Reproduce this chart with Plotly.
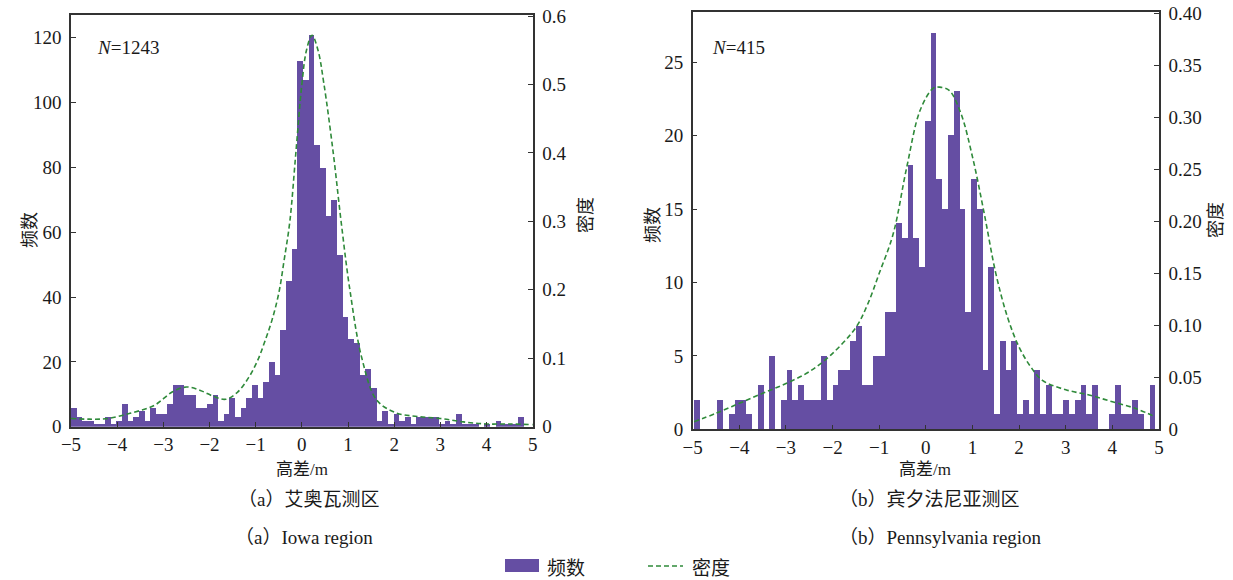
import plotly.graph_objects as go

W, H = 1233, 580

# ---- data -------------------------------------------------------------
# (a) Iowa: 80 histogram bins starting at -5 m
iowa_bin_start = -5.0
iowa_bin_width = 0.1226
iowa_counts = [
    6, 3, 2, 2, 1, 1, 3, 1, 2, 7,
    2, 3, 5, 2, 6, 4, 4, 7, 13, 13,
    10, 10, 6, 6, 7, 10, 2, 4, 9, 3,
    6, 9, 13, 9, 14, 20, 16, 30, 45, 55,
    113, 107, 121, 87, 80, 65, 70, 53, 34, 27,
    26, 16, 18, 12, 2, 5, 1, 4, 2, 3,
    1, 3, 3, 3, 3, 1, 2, 1, 4, 1,
    1, 1, 0, 1, 0, 2, 1, 1, 1, 3,
]
iowa_density_x = [-5.0, -4.6, -4.2, -3.7, -3.2, -2.8, -2.5, -2.2, -1.9, -1.65,
                  -1.4, -1.15, -0.95, -0.8, -0.65, -0.5, -0.38, -0.26, -0.13, 0.0,
                  0.1, 0.22, 0.35, 0.48, 0.68, 0.85, 1.04, 1.3, 1.62, 2.05,
                  2.5, 3.0, 3.5, 4.0, 4.5, 5.0]
iowa_density_y = [0.012, 0.011, 0.012, 0.020, 0.031, 0.051, 0.058, 0.053, 0.044, 0.040,
                  0.050, 0.072, 0.098, 0.125, 0.155, 0.195, 0.245, 0.300, 0.400, 0.500,
                  0.550, 0.572, 0.550, 0.500, 0.400, 0.300, 0.200, 0.100, 0.039, 0.020,
                  0.015, 0.012, 0.007, 0.004, 0.004, 0.003]

# (b) Pennsylvania: 80 histogram bins
penn_bin_start = -4.97
penn_bin_width = 0.1236
penn_counts = [
    2, 0, 0, 0, 2, 0, 1, 2, 2, 1,
    0, 3, 0, 5, 0, 2, 4, 2, 3, 2,
    2, 2, 5, 2, 3, 4, 4, 6, 7, 3,
    3, 5, 5, 8, 8, 14, 13, 18, 13, 11,
    21, 27, 17, 15, 20, 23, 15, 8, 17, 15,
    4, 11, 1, 6, 4, 6, 1, 2, 1, 4,
    1, 3, 1, 1, 2, 1, 2, 3, 1, 3,
    0, 0, 1, 3, 1, 1, 2, 1, 0, 3,
]
penn_density_x = [-4.97, -4.5, -4.0, -3.5, -3.0, -2.5, -2.0, -1.5, -1.25, -1.0,
                  -0.7, -0.41, -0.12, 0.16, 0.3, 0.5, 0.75, 1.0, 1.25, 1.5,
                  1.75, 2.0, 2.25, 2.5, 3.0, 3.5, 4.0, 4.5, 4.92]
penn_density_y = [0.0073, 0.0154, 0.025, 0.0346, 0.044, 0.0554, 0.073, 0.098, 0.120, 0.150,
                  0.188, 0.252, 0.307, 0.328, 0.329, 0.326, 0.304, 0.262, 0.208, 0.150,
                  0.108, 0.079, 0.060, 0.047, 0.038, 0.033, 0.0265, 0.020, 0.012]

x_ticks = [-5, -4, -3, -2, -1, 0, 1, 2, 3, 4, 5]
iowa_count_ticks = [0, 20, 40, 60, 80, 100, 120]
iowa_density_ticks = [0, 0.1, 0.2, 0.3, 0.4, 0.5, 0.6]
iowa_density_labels = ["0", "0.1", "0.2", "0.3", "0.4", "0.5", "0.6"]
penn_count_ticks = [0, 5, 10, 15, 20, 25]
penn_density_ticks = [0, 0.05, 0.10, 0.15, 0.20, 0.25, 0.30, 0.35, 0.40]
penn_density_labels = ["0", "0.05", "0.10", "0.15", "0.20", "0.25", "0.30", "0.35", "0.40"]

# ---- styling ----------------------------------------------------------
BAR = "#654ea3"
LINE = "#2f8a3a"
AXIS = "#333333"
TXT = "#1a1a1a"
SERIF = "Liberation Serif, Noto Sans CJK SC"
CJK = "Noto Sans CJK SC"


def px(x):
    return x / W


def py(y):
    return 1 - y / H


def centers(start, width, n):
    return [start + width * (i + 0.5) for i in range(n)]


fig = go.Figure()

fig.add_trace(go.Bar(
    x=centers(iowa_bin_start, iowa_bin_width, len(iowa_counts)), y=iowa_counts,
    width=iowa_bin_width, marker=dict(color=BAR, line=dict(width=0)),
    xaxis="x", yaxis="y", name="频数", showlegend=False))
fig.add_trace(go.Scatter(
    x=iowa_density_x, y=iowa_density_y, mode="lines",
    line=dict(color=LINE, width=1.6, dash="5px,3px", shape="spline", smoothing=1.0),
    xaxis="x", yaxis="y2", name="密度", showlegend=False))

fig.add_trace(go.Bar(
    x=centers(penn_bin_start, penn_bin_width, len(penn_counts)), y=penn_counts,
    width=penn_bin_width, marker=dict(color=BAR, line=dict(width=0)),
    xaxis="x2", yaxis="y3", name="频数", showlegend=False))
fig.add_trace(go.Scatter(
    x=penn_density_x, y=penn_density_y, mode="lines",
    line=dict(color=LINE, width=1.6, dash="5px,3px", shape="spline", smoothing=1.0),
    xaxis="x2", yaxis="y4", name="密度", showlegend=False))

tick_font = dict(family=SERIF, size=19, color=TXT)
common = dict(showgrid=False, zeroline=False, showline=True, linecolor=AXIS, linewidth=1.5,
              ticks="inside", ticklen=5, tickwidth=1.3, tickcolor=AXIS, tickfont=tick_font,
              automargin=False)

fig.update_layout(
    width=W, height=H, autosize=False,
    margin=dict(l=0, r=0, t=0, b=0, pad=0),
    paper_bgcolor="white", plot_bgcolor="white",
    bargap=0, barmode="overlay",
    xaxis=dict(domain=[px(71), px(532.7)], range=[-5, 5], anchor="y",
               tickvals=x_ticks, mirror=True, ticklabelstandoff=0, **common),
    yaxis=dict(domain=[py(426.7), py(14.7)], range=[0, 127.1], anchor="x",
               tickvals=iowa_count_ticks, ticklabelstandoff=4, **common),
    yaxis2=dict(overlaying="y", side="right", anchor="x", range=[0, 0.602],
                tickvals=iowa_density_ticks, ticktext=iowa_density_labels,
                ticklabelstandoff=4, **common),
    xaxis2=dict(domain=[px(692.7), px(1159)], range=[-5, 5], anchor="y3",
                tickvals=x_ticks, mirror=True, ticklabelstandoff=0, **common),
    yaxis3=dict(domain=[py(429.3), py(12.3)], range=[0, 28.4], anchor="x2",
                tickvals=penn_count_ticks, ticklabelstandoff=4, **common),
    yaxis4=dict(overlaying="y3", side="right", anchor="x2", range=[0, 0.401],
                tickvals=penn_density_ticks, ticktext=penn_density_labels,
                ticklabelstandoff=4, **common),
)

ann = []


def label(text, x, y, size=19, family=SERIF, angle=0, xanchor="center"):
    ann.append(dict(text=text, x=px(x), y=py(y), xref="paper", yref="paper",
                    showarrow=False, textangle=angle, xanchor=xanchor, yanchor="middle",
                    borderpad=0, font=dict(family=family, size=size, color=TXT)))


# sample sizes
label("<i>N</i>=1243", 96, 47, xanchor="left")
label("<i>N</i>=415", 711, 47, xanchor="left")

# axis titles
label("频数", 28, 230, size=18, family=CJK, angle=-90)
label("密度", 584, 215, size=18, family=CJK, angle=-90)
label("高差/m", 302, 469, size=17, family=SERIF)
label("频数", 651, 225, size=18, family=CJK, angle=-90)
label("密度", 1214, 220, size=18, family=CJK, angle=-90)
label("高差/m", 925, 469, size=17, family=SERIF)

# panel captions
label("（a）艾奥瓦测区", 308, 500, size=19)
label("（a）Iowa region", 304, 537, size=19)
label("（b）宾夕法尼亚测区", 929, 500, size=19)
label("（b）Pennsylvania region", 940, 537, size=19)

# legend
label("频数", 546, 566, size=19, family=CJK, xanchor="left")
label("密度", 691, 566, size=19, family=CJK, xanchor="left")

fig.update_layout(annotations=ann)

fig.add_shape(type="rect", xref="paper", yref="paper",
              x0=px(505), x1=px(539), y0=py(572), y1=py(559),
              fillcolor=BAR, line=dict(width=0))
fig.add_shape(type="line", xref="paper", yref="paper",
              x0=px(648), x1=px(683), y0=py(566), y1=py(566),
              line=dict(color=LINE, width=1.6, dash="5px,3px"))

fig.write_html("out.html")
